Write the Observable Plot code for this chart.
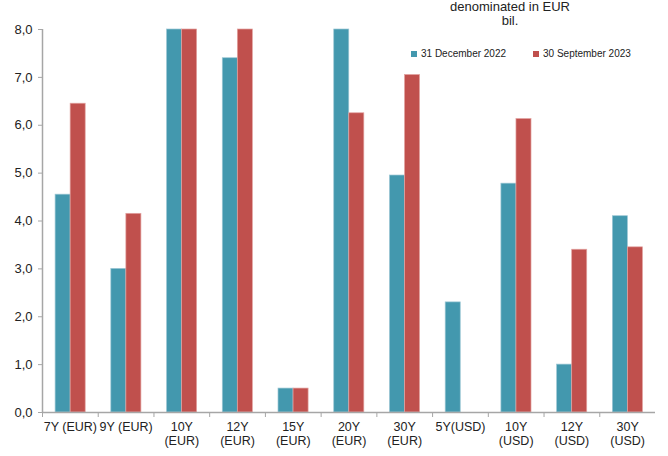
<!DOCTYPE html>
<html>
<head>
<meta charset="utf-8">
<script src="https://cdn.jsdelivr.net/npm/d3@7"></script>
<script src="https://cdn.jsdelivr.net/npm/@observablehq/plot@0.6"></script>
<style>
  html, body { margin: 0; padding: 0; background: #fff; }
  #wrap { position: relative; width: 668px; height: 456px; font-family: "Liberation Sans", Arial, sans-serif; }
  #title { position: absolute; left: 430px; width: 160px; top: 0px; text-align: center; font-size: 13px; line-height: 13.5px; color: #222; }
  .leg { position: absolute; top: 48px; font-size: 10px; color: #222; display: flex; align-items: center; white-space: nowrap; }
  .sw { width: 6px; height: 6px; margin-right: 4px; display: inline-block; }
</style>
</head>
<body>
<div id="wrap">
  <div id="chart"></div>
  <div id="title">denominated in EUR<br>bil.</div>
  <div id="leg"></div>
</div>
<script>
const categories = ["7Y (EUR)", "9Y (EUR)", "10Y\n(EUR)", "12Y\n(EUR)", "15Y\n(EUR)", "20Y\n(EUR)", "30Y\n(EUR)", "5Y(USD)", "10Y\n(USD)", "12Y\n(USD)", "30Y\n(USD)"];
const dec2022 = [4.55, 3.0, 8.0, 7.4, 0.5, 8.0, 4.95, 2.3, 4.78, 1.0, 4.1];
const sep2023 = [6.45, 4.15, 8.0, 8.0, 0.5, 6.25, 7.05, 0, 6.13, 3.4, 3.45];
const seriesNames = ["31 December 2022", "30 September 2023"];
const seriesColors = ["#4398ae", "#c0504d"];
const yTicks = [0, 1, 2, 3, 4, 5, 6, 7, 8];

const rows = categories.map((c, i) => ({i, cat: c, a: dec2022[i], b: sep2023[i]}));
const boundaries = d3.range(0, categories.length);

const chart = Plot.plot({
  width: 668,
  height: 456,
  marginLeft: 42,
  marginRight: 13,
  marginTop: 29,
  marginBottom: 44,
  x: {domain: [0, categories.length], axis: null},
  y: {domain: [0, 8], axis: null},
  style: {fontFamily: "'Liberation Sans', Arial, sans-serif", background: "#fff"},
  marks: [
    Plot.rectY(rows, {x1: d => d.i + 0.235, x2: d => d.i + 0.505, y: "a", fill: seriesColors[0], stroke: "#9cc7d4", strokeWidth: 0.7}),
    Plot.rectY(rows, {x1: d => d.i + 0.505, x2: d => d.i + 0.775, y: "b", fill: seriesColors[1], stroke: "#e3a3a1", strokeWidth: 0.7}),
    Plot.axisY({ticks: yTicks, tickFormat: d => d.toFixed(1).replace(".", ","), tickSize: 4, tickPadding: 6, stroke: "#a6a6a6", color: "#222", fontSize: 13}),
    Plot.axisX({ticks: boundaries, tickFormat: () => "", tickSize: 5, stroke: "#a6a6a6"}),
    Plot.ruleX([0], {stroke: "#a6a6a6", strokeWidth: 1.5}),
    Plot.ruleY([0], {stroke: "#a6a6a6", strokeWidth: 1.5}),
    Plot.text(rows, {x: d => d.i + 0.5, text: "cat", frameAnchor: "bottom", lineAnchor: "top", dy: 9, fontSize: 12.5, lineHeight: 1.12, fill: "#222"})
  ]
});
document.getElementById("chart").appendChild(chart);

const leg = document.getElementById("leg");
const legLeft = [411, 533];
seriesNames.forEach((n, k) => {
  const d = document.createElement("div");
  d.className = "leg";
  d.style.left = legLeft[k] + "px";
  d.innerHTML = `<span class="sw" style="background:${seriesColors[k]}"></span>${n}`;
  leg.appendChild(d);
});
</script>
</body>
</html>
